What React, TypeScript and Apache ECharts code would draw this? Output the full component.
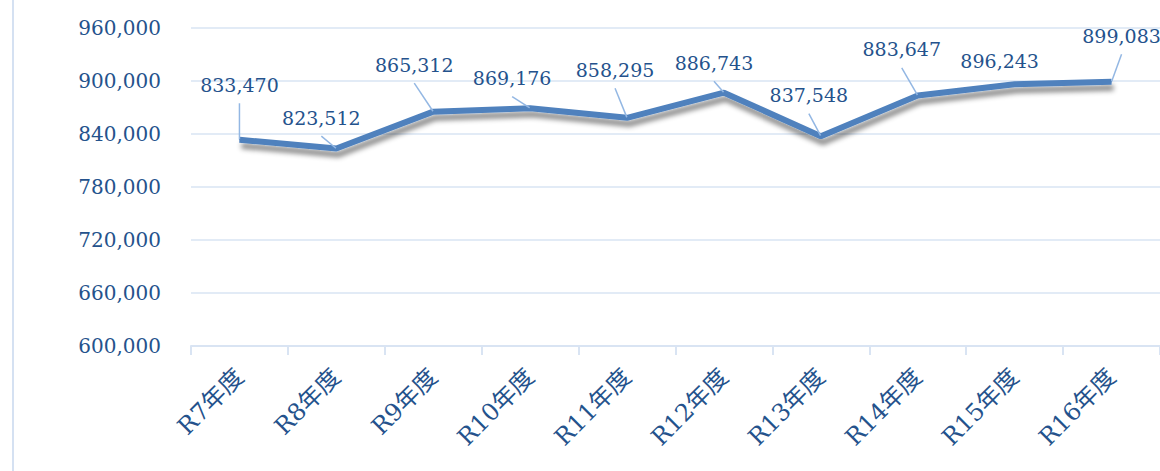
import React, { useEffect, useRef } from "react";
import * as echarts from "echarts";

const categories = ["R7年度", "R8年度", "R9年度", "R10年度", "R11年度", "R12年度", "R13年度", "R14年度", "R15年度", "R16年度"];
const values = [833470, 823512, 865312, 869176, 858295, 886743, 837548, 883647, 896243, 899083];
const yMin = 600000;
const yMax = 960000;
const yStep = 60000;

// label offsets (dx, dy) relative to default top position
const labelDx = [0, -15, -19, -18, -12, -10, -12, -16, -15, 10];
const labelDy = [-40, -16, -32, -15, -33, -15, -26, -31, -8, -31];

const TEXT = "#24528C";
const GRID = "#D9E4F3";
const SERIF = "'DejaVu Serif', 'Liberation Serif', 'Noto Sans CJK JP', serif";
const PAD_B = 9;

const fmt = (v: number) => v.toLocaleString("en-US");

export default function App() {
  const ref = useRef<HTMLDivElement>(null);
  useEffect(() => {
    document.body.style.margin = "0";
    const chart = echarts.init(ref.current!, null, { renderer: "svg" });
    chart.setOption({
      animation: false,
      backgroundColor: "#ffffff",
      grid: { left: 191, right: 0, top: 28, bottom: 125 },
      graphic: [
        { type: "rect", shape: { x: 12, y: 0, width: 2, height: 471 }, style: { fill: "#D5E1F2" } },
      ],
      xAxis: {
        type: "category",
        data: categories,
        boundaryGap: true,
        axisLine: { lineStyle: { color: GRID, width: 2 } },
        axisTick: { show: true, length: 9, lineStyle: { color: GRID, width: 2 } },
        axisLabel: {
          rotate: 45,
          margin: 27,
          color: TEXT,
          fontSize: 24,
          fontFamily: SERIF,
          interval: 0,
        },
      },
      yAxis: {
        type: "value",
        min: yMin,
        max: yMax,
        interval: yStep,
        axisLine: { show: false },
        axisTick: { show: false },
        splitLine: { lineStyle: { color: GRID, width: 1.5 } },
        axisLabel: {
          margin: 30,
          color: TEXT,
          fontSize: 20,
          fontFamily: SERIF,
          formatter: (v: number) => fmt(v),
        },
      },
      series: [
        {
          type: "line",
          data: values.map((v, i) => ({ value: v, labelLine: { show: i !== 8 } })),
          symbol: "circle",
          symbolSize: 1,
          showSymbol: true,
          lineStyle: {
            color: "#4F81BD",
            width: 6,
            shadowColor: "rgba(0,0,0,0.45)",
            shadowBlur: 5,
            shadowOffsetX: 2,
            shadowOffsetY: 6,
          },
          itemStyle: { color: "#4F81BD" },
          label: {
            show: true,
            position: "top",
            distance: 5,
            color: TEXT,
            fontSize: 19,
            fontFamily: SERIF,
            padding: [0, 0, PAD_B, 0],
            backgroundColor: "rgba(255,255,255,0)",
            formatter: (p: any) => fmt(p.value),
          },
          labelLine: { show: true, lineStyle: { color: "#93B7E3", width: 1.5 } },
          labelLayout: (p: any) => ({ dx: labelDx[p.dataIndex], dy: labelDy[p.dataIndex] + PAD_B }),
        },
      ],
    });
    return () => chart.dispose();
  }, []);
  return <div ref={ref} style={{ width: 1160, height: 471 }} />;
}
